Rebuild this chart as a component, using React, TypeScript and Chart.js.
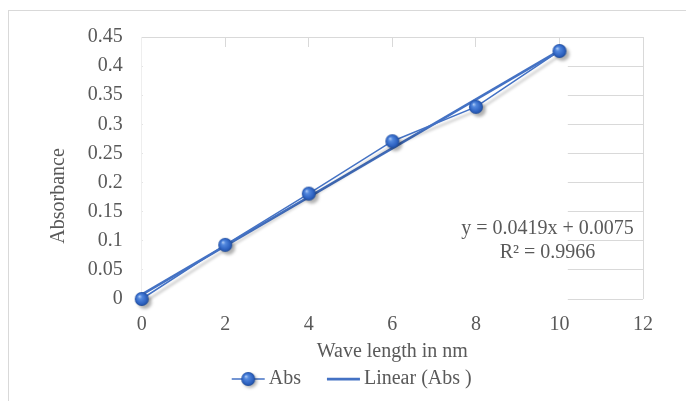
import React, { useEffect, useRef } from 'react';
import { Chart, registerables } from 'chart.js';

Chart.register(...registerables);

// Measured absorbance at each wavelength
const wavelengthNm = [0, 2, 4, 6, 8, 10];
const absValues = [0, 0.093, 0.181, 0.271, 0.33, 0.426];

// Linear least-squares fit as reported on the chart
const trendSlope = 0.0419;
const trendIntercept = 0.0075;
const trendR2 = 0.9966;
const trendRange = [0, 10];

// Axis ranges
const xMin = 0;
const xMax = 12;
const xStep = 2;
const yMin = 0;
const yMax = 0.45;
const yStep = 0.05;

const seriesLabel = 'Abs';
const trendLabel = 'Linear (Abs )';
const xAxisTitle = 'Wave length in nm';
const yAxisTitle = 'Absorbance';

const FONT_FAMILY = "'Liberation Serif', 'Times New Roman', serif";
const FONT_SIZE = 20;
const TEXT_COLOR = '#595959';
const GRID_COLOR = '#d9d9d9';
const SERIES_COLOR = '#4472C4';

function makeSphere(r: number): HTMLCanvasElement {
  const size = r * 2 + 2;
  const c = document.createElement('canvas');
  c.width = size;
  c.height = size;
  const g = c.getContext('2d')!;
  const cx = size / 2;
  const cy = size / 2;
  const grad = g.createRadialGradient(cx - r * 0.35, cy - r * 0.4, 0, cx, cy, r);
  grad.addColorStop(0, '#b8d2f8');
  grad.addColorStop(0.3, '#5288de');
  grad.addColorStop(0.8, '#2c60bf');
  grad.addColorStop(1, '#1e4a95');
  g.fillStyle = grad;
  g.beginPath();
  g.arc(cx, cy, r, 0, Math.PI * 2);
  g.fill();
  return c;
}

const fmt = (v: number) => String(Number(v.toFixed(4)));

// Outer chart frame
const framePlugin = {
  id: 'frame',
  beforeDraw(chart: any) {
    const ctx = chart.ctx;
    ctx.save();
    ctx.strokeStyle = GRID_COLOR;
    ctx.lineWidth = 1;
    ctx.strokeRect(8.5, 10.5, chart.width + 20, chart.height + 20);
    ctx.restore();
  },
};

// Plot-area fill laid over the inner part of the grid
const plotFillPlugin = {
  id: 'plotFill',
  beforeDatasetsDraw(chart: any) {
    const { left, top, bottom } = chart.chartArea;
    const xr = chart.scales.x.getPixelForValue(10.2);
    const ctx = chart.ctx;
    ctx.save();
    ctx.fillStyle = '#ffffff';
    ctx.fillRect(left + 1, top + 10, xr - left - 1, bottom - top - 8);
    ctx.restore();
  },
};

// Soft drop shadow under the measured series
const shadowPlugin = {
  id: 'seriesShadow',
  beforeDatasetDraw(chart: any, args: any) {
    if (args.index !== 0) return;
    const ctx = chart.ctx;
    ctx.save();
    ctx.shadowColor = 'rgba(0,0,0,0.3)';
    ctx.shadowBlur = 3;
    ctx.shadowOffsetX = 3;
    ctx.shadowOffsetY = 3;
  },
  afterDatasetDraw(chart: any, args: any) {
    if (args.index !== 0) return;
    chart.ctx.restore();
  },
};

// Rotated y-axis title, equation label and legend
const annotationsPlugin = {
  id: 'annotations',
  afterDraw(chart: any) {
    const ctx = chart.ctx;
    const { right, bottom } = chart.chartArea;
    ctx.save();
    ctx.font = `${FONT_SIZE}px ${FONT_FAMILY}`;
    ctx.fillStyle = TEXT_COLOR;
    ctx.textBaseline = 'middle';
    ctx.textAlign = 'center';

    // y-axis title
    ctx.save();
    ctx.translate(58.5, bottom - 103);
    ctx.rotate(-Math.PI / 2);
    ctx.fillText(yAxisTitle, 0, 0);
    ctx.restore();

    // trendline equation
    const eqX = right - 95.5;
    ctx.fillText(`y = ${fmt(trendSlope)}x + ${fmt(trendIntercept)}`, eqX, bottom - 70.7);
    ctx.fillText(`R² = ${fmt(trendR2)}`, eqX, bottom - 46.7);

    // legend
    const ds = chart.data.datasets;
    const iconW = 33;
    const gapText = 4;
    const gapItems = 26;
    const widths = ds.map((d: any) => ctx.measureText(d.label).width);
    const total = ds.length * (iconW + gapText) + widths.reduce((a: number, b: number) => a + b, 0) + gapItems * (ds.length - 1);
    let x = chart.width / 2 + 8.7 - total / 2;
    const y = bottom + 80;
    ctx.textAlign = 'left';
    ds.forEach((d: any, i: number) => {
      ctx.save();
      ctx.strokeStyle = d.borderColor;
      ctx.lineWidth = d.borderWidth;
      ctx.beginPath();
      ctx.moveTo(x, y);
      ctx.lineTo(x + iconW, y);
      ctx.stroke();
      if (d.pointRadius > 0 && d.pointStyle instanceof HTMLCanvasElement) {
        const img = d.pointStyle as HTMLCanvasElement;
        ctx.shadowColor = 'rgba(0,0,0,0.28)';
        ctx.shadowBlur = 3;
        ctx.shadowOffsetX = 2;
        ctx.shadowOffsetY = 2;
        ctx.drawImage(img, x + iconW / 2 - img.width / 2, y - img.height / 2);
      }
      ctx.restore();
      ctx.fillText(d.label, x + iconW + gapText, y);
      x += iconW + gapText + widths[i] + gapItems;
    });
    ctx.restore();
  },
};

export default function App() {
  const canvasRef = useRef<HTMLCanvasElement | null>(null);

  useEffect(() => {
    if (!canvasRef.current) return;
    const sphere = makeSphere(7);
    const font = { family: FONT_FAMILY, size: FONT_SIZE };

    const chart = new Chart(canvasRef.current, {
      type: 'scatter',
      data: {
        datasets: [
          {
            label: seriesLabel,
            data: wavelengthNm.map((x, i) => ({ x, y: absValues[i] })),
            showLine: true,
            borderColor: SERIES_COLOR,
            borderWidth: 1.5,
            pointStyle: sphere,
            pointRadius: 7,
            backgroundColor: SERIES_COLOR,
            clip: false,
          } as any,
          {
            label: trendLabel,
            data: trendRange.map((x) => ({ x, y: trendSlope * x + trendIntercept })),
            showLine: true,
            borderColor: SERIES_COLOR,
            borderWidth: 2.75,
            pointRadius: 0,
            clip: false,
          } as any,
        ],
      },
      options: {
        responsive: false,
        animation: false,
        layout: { padding: { left: 0, top: 37, right: 43, bottom: 37 } },
        plugins: {
          legend: { display: false },
          tooltip: { enabled: false },
        },
        scales: {
          x: {
            type: 'linear',
            min: xMin,
            max: xMax,
            ticks: { stepSize: xStep, padding: 14, font, color: TEXT_COLOR, callback: (v: any) => fmt(Number(v)) },
            grid: {
              color: (c: any) => (c.index === 0 ? '#eeeeee' : GRID_COLOR),
              drawTicks: false,
            },
            border: { display: false },
            title: { display: true, text: xAxisTitle, font, color: TEXT_COLOR, padding: { top: 0, bottom: 0 } },
            afterFit: (s: any) => {
              s.height = 65;
            },
          },
          y: {
            type: 'linear',
            min: yMin,
            max: yMax,
            ticks: { stepSize: yStep, padding: 19, font, color: TEXT_COLOR, callback: (v: any) => fmt(Number(v)) },
            grid: { color: GRID_COLOR, drawTicks: false },
            border: { display: false },
            afterFit: (s: any) => {
              s.width = 141.7;
            },
          },
        },
      } as any,
      plugins: [framePlugin, plotFillPlugin, shadowPlugin, annotationsPlugin],
    });

    return () => chart.destroy();
  }, []);

  return (
    <div style={{ position: 'fixed', left: 0, top: 0, width: 686, height: 401, background: '#ffffff' }}>
      <canvas ref={canvasRef} width={686} height={401} style={{ display: 'block' }} />
    </div>
  );
}
